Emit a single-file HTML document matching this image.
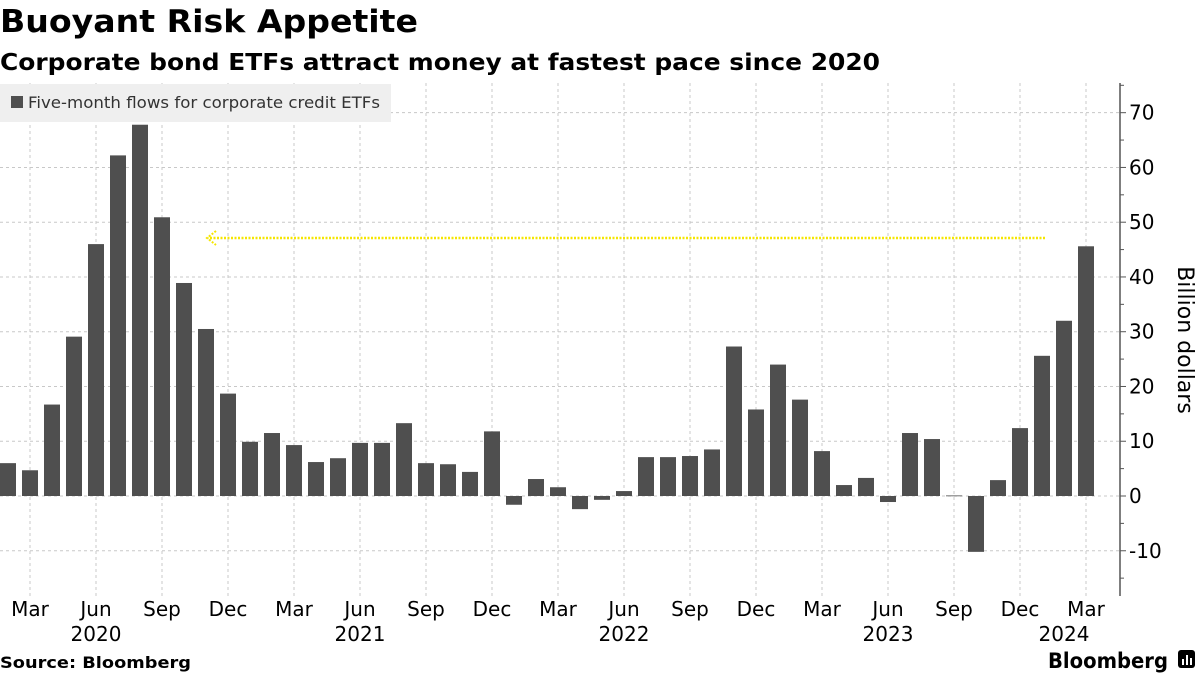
<!DOCTYPE html>
<html><head><meta charset="utf-8">
<style>
body{margin:0;background:#fff;width:1200px;height:675px;overflow:hidden;font-family:"DejaVu Sans","Liberation Sans",sans-serif;}
</style></head>
<body>
<svg width="1200" height="675" viewBox="0 0 1200 675" xmlns="http://www.w3.org/2000/svg" font-family="DejaVu Sans, Liberation Sans, sans-serif">
<text x="0" y="32" font-size="31" font-weight="bold" fill="#000" textLength="418" lengthAdjust="spacingAndGlyphs">Buoyant Risk Appetite</text>
<text x="0" y="70" font-size="23" font-weight="bold" fill="#000" textLength="880" lengthAdjust="spacingAndGlyphs">Corporate bond ETFs attract money at fastest pace since 2020</text>
<g id="grid"></g>
<rect x="0" y="84" width="391" height="38" fill="#efefef"/>
<rect x="11" y="96" width="12" height="12" fill="#4f4f4f"/>
<text x="28" y="108" font-size="16" fill="#333" textLength="352" lengthAdjust="spacingAndGlyphs">Five-month flows for corporate credit ETFs</text>
<g id="bars"></g>
<g id="axis"></g>
<g>
<line x1="1045" y1="238" x2="208" y2="238" stroke="#f5e600" stroke-width="2.5" stroke-dasharray="2,1.5"/>
<polyline points="216,231 207,238 216,245" fill="none" stroke="#f5e600" stroke-width="2" stroke-dasharray="2,1.5"/>
</g>
<text transform="translate(1178,340) rotate(90)" font-size="22" text-anchor="middle" fill="#000">Billion dollars</text>
<text x="0" y="668" font-size="16" font-weight="bold" fill="#000" textLength="191" lengthAdjust="spacingAndGlyphs">Source: Bloomberg</text>
<text x="1048" y="668" font-size="21" font-weight="bold" fill="#000" textLength="120" lengthAdjust="spacingAndGlyphs">Bloomberg</text>
<g>
<rect x="1178" y="650" width="17" height="18" rx="3" fill="#000"/>
<rect x="1182" y="659" width="2" height="6" fill="#fff"/><rect x="1186" y="655" width="2" height="10" fill="#fff"/><rect x="1190" y="658" width="2" height="7" fill="#fff"/>
</g>
</svg>
<script>
const categories=["Feb 2020","Mar 2020","Apr 2020","May 2020","Jun 2020","Jul 2020","Aug 2020","Sep 2020","Oct 2020","Nov 2020","Dec 2020","Jan 2021","Feb 2021","Mar 2021","Apr 2021","May 2021","Jun 2021","Jul 2021","Aug 2021","Sep 2021","Oct 2021","Nov 2021","Dec 2021","Jan 2022","Feb 2022","Mar 2022","Apr 2022","May 2022","Jun 2022","Jul 2022","Aug 2022","Sep 2022","Oct 2022","Nov 2022","Dec 2022","Jan 2023","Feb 2023","Mar 2023","Apr 2023","May 2023","Jun 2023","Jul 2023","Aug 2023","Sep 2023","Oct 2023","Nov 2023","Dec 2023","Jan 2024","Feb 2024","Mar 2024"];
const flows=[6.0,4.7,16.7,29.1,46.0,62.2,67.8,50.9,38.9,30.5,18.7,9.9,11.5,9.3,6.2,6.9,9.7,9.7,13.3,6.0,5.8,4.4,11.8,-1.6,3.1,1.6,-2.4,-0.7,0.9,7.1,7.1,7.3,8.5,27.3,15.8,24.0,17.6,8.2,2.0,3.3,-1.1,11.5,10.4,0.1,-10.2,2.9,12.4,25.6,32.0,45.6];
const yTicks=[-10,0,10,20,30,40,50,60,70];
const monthTicks=["Mar","Jun","Sep","Dec","Mar","Jun","Sep","Dec","Mar","Jun","Sep","Dec","Mar","Jun","Sep","Dec","Mar"];
const yearLabels=["2020","2021","2022","2023","2024"];
const yearTickIdx=[4,16,28,40,48];

const NS="http://www.w3.org/2000/svg";
const xC=i=>8+22*i;
const yS=v=>496-v*5.476;
function mk(tag,attrs,parent,txt){const e=document.createElementNS(NS,tag);for(const k in attrs)e.setAttribute(k,attrs[k]);if(txt!==undefined)e.textContent=txt;parent.appendChild(e);return e;}
const grid=document.getElementById('grid'),bars=document.getElementById('bars'),axis=document.getElementById('axis');
yTicks.forEach(v=>{
  const l=mk('line',{x1:0,x2:1120,y1:yS(v),y2:yS(v),stroke:'#c8c8c8','stroke-width':1,'stroke-dasharray':'3,3'},grid);
  
  
  const t=mk('text',{x:1129,y:yS(v)+7,'font-size':20,fill:'#000'},axis,String(v));
  
  
  mk('line',{x1:1120,x2:1126,y1:yS(v),y2:yS(v),stroke:'#555'},axis);
});
for(let v=-15;v<=75;v+=10){mk('line',{x1:1120,x2:1124,y1:yS(v),y2:yS(v),stroke:'#555'},axis);}
mk('line',{x1:1120,x2:1120,y1:83,y2:596,stroke:'#555','stroke-width':1.5},axis);
monthTicks.forEach((m,k)=>{
  const i=1+3*k,x=xC(i);
  const g=mk('line',{x1:x,x2:x,y1:83,y2:596,stroke:'#c8c8c8','stroke-width':1,'stroke-dasharray':'3,3'},grid);
  
  
  const t=mk('text',{x:x,y:616,'font-size':20,'text-anchor':'middle',fill:'#000'},axis,m);
  
  
});
yearLabels.forEach((y,k)=>{
  const t=mk('text',{x:xC(yearTickIdx[k]),y:641,'font-size':20,'text-anchor':'middle',fill:'#000'},axis,y);
  
  
});
flows.forEach((v,i)=>{
  const y0=yS(0),y1=yS(v);
  const r=mk('rect',{x:xC(i)-8,y:Math.min(y0,y1),width:16,height:Math.max(Math.abs(y1-y0),0.8),fill:'#4f4f4f'},bars);
  
  
});
</script>
</body></html>
